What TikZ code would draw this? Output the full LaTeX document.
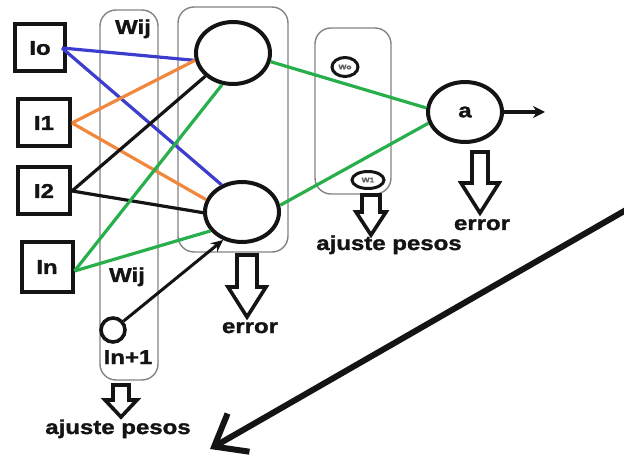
\documentclass[tikz,border=0pt]{standalone}
\usepackage{fontspec}
\setmainfont{Liberation Sans}
\newfontfamily\labfont[FakeStretch=1.2,FakeBold=1.5]{Liberation Sans Bold}
\usetikzlibrary{arrows.meta,shapes.geometric}
\definecolor{wblue}{RGB}{60,60,205}
\definecolor{worange}{RGB}{240,135,60}
\definecolor{wgreen}{RGB}{40,175,75}
\definecolor{ink}{RGB}{20,20,20}
\definecolor{frame}{RGB}{130,130,130}
% hollow downward block arrow: x, top, head start, tip, shaft half-width, head half-width
\newcommand\hollowdown[6]{%
  \draw[hollow] (#1-#5,#2) -- (#1+#5,#2) -- (#1+#5,#3) -- (#1+#6,#3) -- (#1,#4)
    -- (#1-#6,#3) -- (#1-#5,#3) -- cycle;}
\begin{document}
\begin{tikzpicture}[x=1pt,y=-1pt,
  lab/.style={font=\labfont\fontsize{20}{22}\selectfont, text=ink, inner sep=0pt},
  inbox/.style={draw=ink, line width=4pt, minimum width=50pt, minimum height=47pt, lab},
  neuron/.style={ellipse, draw=ink, line width=4pt, minimum width=74pt, minimum height=62pt, inner sep=0pt, lab},
  wnode/.style={ellipse, draw=ink, line width=3pt, inner sep=0pt, text=ink!70, font=\labfont\fontsize{7}{8}\selectfont},
  column/.style={draw=frame, line width=1.4pt, rounded corners=16pt},
  wire/.style={line width=3.2pt},
  hollow/.style={draw=ink, line width=3.6pt, fill=white, line join=miter},
]
\useasboundingbox (0,0) rectangle (624,457);

% grouping frames
\draw[column] (100,10) rectangle (158,380);
\draw[column] (178,7) rectangle (288,252);
\draw[column] (315,28) rectangle (391,194);

% inputs
\node[inbox] (I0) at (40,48) {Io};
\node[inbox, minimum width=52pt] (I1) at (44,123) {I1};
\node[inbox, minimum width=52pt] (I2) at (44,191) {I2};
\node[inbox, minimum width=51pt, minimum height=49pt] (In) at (47,267) {In};

% neurons
\node[neuron] (h1) at (233,53) {};
\node[neuron, minimum height=60pt] (h2) at (242,212) {};
\node[neuron, minimum height=60pt] (out) at (465,112) {a};
\node[circle, draw=ink, line width=3.6pt, minimum size=24pt, inner sep=0pt] (bias) at (113,330) {};

% output weights
\node[wnode, minimum width=26pt, minimum height=19pt] (w0) at (345,67) {Wo};
\node[wnode, minimum width=32pt, minimum height=17pt] (w1) at (368,180) {W1};

% input -> hidden connections
\draw[wire, wblue] ([xshift=-5pt]I0.east) -- (h1.191);
\draw[wire, wblue] ([xshift=-5pt]I0.east) -- (h2.127);
\draw[wire, worange] (I1.east) -- (h1.191);
\draw[wire, worange] (I1.east) -- (h2.161);
\draw[wire, ink] (I2.east) -- (h1.220);
\draw[wire, ink] (I2.east) -- (h2.181);
\draw[wire, wgreen] ([yshift=-4pt]In.east) -- (h1.251);
\draw[wire, wgreen] ([yshift=-4pt]In.east) -- (h2.211);

% hidden -> output
\draw[wire, wgreen] (h1.347) -- (out.174);
\draw[wire, wgreen] (h2.10) -- (out.197);

% bias input
\draw[line width=3pt, ink, -{Stealth[length=12pt,width=11pt]}] (bias.40) -- (h2.236);

% network output
\coordinate (y) at (545,112);
\draw[line width=3.4pt, ink, -{Stealth[length=12pt,width=12pt]}] (out.east) -- (y);

% long return arrow
\coordinate (farA) at (626,210);
\coordinate (farB) at (210,449);
\draw[line width=6pt, ink, -{Straight Barb[length=28pt,width=44pt]}] (farA) -- (farB);

% labels
\node[lab, anchor=base] (wij1) at (133,34) {Wij};
\node[lab, anchor=base] (wij2) at (127,282) {Wij};
\node[lab, anchor=base] (bl) at (128,364) {In+1};
\node[lab, anchor=base] (e1) at (250,333) {error};
\node[lab, anchor=base] (e2) at (482,230) {error};
\node[lab, anchor=base] (aj1) at (389,250) {ajuste pesos};
\node[lab, anchor=base] (aj2) at (118,434) {ajuste pesos};

% block arrows
\hollowdown{247}{255}{287}{317}{10}{19}
\hollowdown{480}{152}{183}{213}{8}{19}
\hollowdown{371}{195}{212}{235}{9}{15}
\hollowdown{121}{385}{400}{417}{8}{16}
\end{tikzpicture}
\end{document}
